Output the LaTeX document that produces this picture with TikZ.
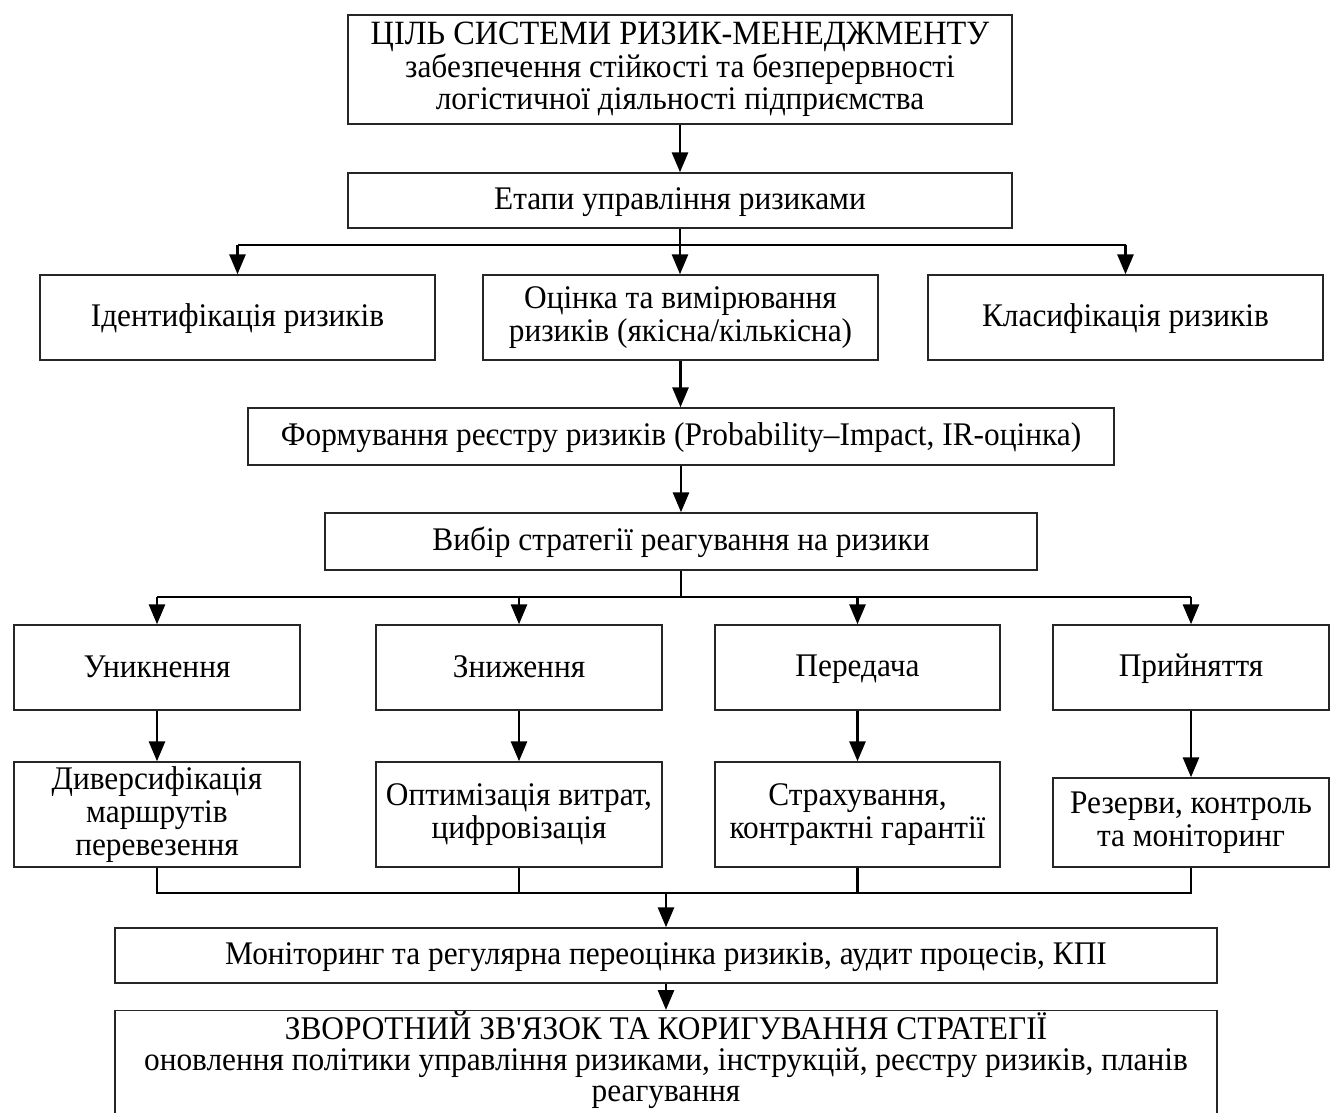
\documentclass[tikz,border=0pt]{standalone}
\usepackage{fontspec}
\setmainfont[FakeStretch=0.95]{Liberation Serif}
\newfontfamily\plainserif[FakeStretch=0.95]{Liberation Serif}
\usetikzlibrary{arrows.meta}
\setlength{\lineskiplimit}{-100pt}
\setlength{\lineskip}{0pt}
\begin{document}
\begin{tikzpicture}[x=0.5pt,y=-0.5pt,
  box/.style={draw=black!85,line width=0.7pt,align=center,inner sep=0pt,
    font=\fontsize{16.5pt}{16.3pt}\selectfont,
    execute at begin node={\rule{0pt}{13pt}}, execute at end node={\rule[-3pt]{0pt}{3pt}}},
  conn/.style={line width=1.45pt,draw=black},
  arr/.style={conn,-{Triangle[width=8pt,length=10pt]}}]
\useasboundingbox (0,0) rectangle (1330,1113);
\node[box,minimum width=332pt,minimum height=54.5pt] (top) at (680,69.5)
  {\fontsize{17pt}{16.5pt}\selectfont ЦІЛЬ СИСТЕМИ РИЗИК-МЕНЕДЖМЕНТУ\\забезпечення стійкості та безперервності\\логістичної діяльності підприємства};
\node[box,minimum width=332pt,minimum height=27.5pt] (etapy) at (680,200.5) {Етапи управління ризиками};
\node[box,minimum width=197.5pt,minimum height=42.5pt] (ident) at (237.5,317.5) {Ідентифікація ризиків};
\node[box,minimum width=197.5pt,minimum height=42.5pt] (ocin) at (680.5,317.5) {Оцінка та вимірювання\\ризиків (якісна/кількісна)};
\node[box,minimum width=197.5pt,minimum height=42.5pt] (klas) at (1125.5,317.5) {Класифікація ризиків};
\node[box,minimum width=433pt,minimum height=28.5pt] (form) at (681,436.5) {Формування реєстру ризиків (Probability–Impact, IR-оцінка)};
\node[box,minimum width=356pt,minimum height=28.5pt] (vybir) at (681,541.5) {Вибір стратегії реагування на ризики};
\node[box,minimum width=143pt,minimum height=42.5pt] (unyk) at (157,667.5) {Уникнення};
\node[box,minimum width=143pt,minimum height=42.5pt] (znyzh) at (519,667.5) {Зниження};
\node[box,minimum width=142.5pt,minimum height=42.5pt] (pered) at (857.5,667.5) {Передача};
\node[box,minimum width=138pt,minimum height=42.5pt] (pryin) at (1191,667.5) {Прийняття};
\node[box,minimum width=143pt,minimum height=52.5pt] (dyv) at (157,814.5) {Диверсифікація\\маршрутів\\перевезення};
\node[box,minimum width=143pt,minimum height=52.5pt] (opt) at (519,814.5) {Оптимізація витрат,\\цифровізація};
\node[box,minimum width=142.5pt,minimum height=52.5pt] (strakh) at (857.5,814.5) {Страхування,\\контрактні гарантії};
\node[box,minimum width=138pt,minimum height=44.5pt] (rez) at (1191,822.5) {Резерви, контроль\\та моніторинг};
\node[box,minimum width=551pt,minimum height=27.5pt] (monit) at (666,955.5) {Моніторинг та регулярна переоцінка ризиків, аудит процесів, КПІ};
\node[box,minimum width=551pt,anchor=north,inner ysep=0.5pt,
  font=\fontsize{16.5pt}{15.4pt}\selectfont,
  execute at end node={\rule[-9pt]{0pt}{9pt}}] (zvor) at (666,1010)
  {ЗВОРОТНИЙ ЗВ{\plainserif '}ЯЗОК ТА КОРИГУВАННЯ СТРАТЕГІЇ\\оновлення політики управління ризиками, інструкцій, реєстру ризиків, планів\\реагування};
% connectors
\coordinate (b1) at (680,245);
\coordinate (b2) at (681,597);
\coordinate (b3) at (666,893);
\draw[arr] (top.south) -- (etapy.north);
\draw[arr] (etapy.south) -- (ocin.north -| etapy.south);
\draw[conn] (ident.north |- b1) -- (klas.north |- b1);
\draw[arr] (ident.north |- b1) -- (ident.north);
\draw[arr] (klas.north |- b1) -- (klas.north);
\draw[arr] (ocin.south) -- (form.north -| ocin.south);
\draw[arr] (form.south) -- (vybir.north);
\draw[conn] (vybir.south) -- (b2);
\draw[conn] (unyk.north |- b2) -- (pryin.north |- b2);
\draw[arr] (unyk.north |- b2) -- (unyk.north);
\draw[arr] (znyzh.north |- b2) -- (znyzh.north);
\draw[arr] (pered.north |- b2) -- (pered.north);
\draw[arr] (pryin.north |- b2) -- (pryin.north);
\draw[arr] (unyk.south) -- (dyv.north);
\draw[arr] (znyzh.south) -- (opt.north);
\draw[arr] (pered.south) -- (strakh.north);
\draw[arr] (pryin.south) -- (rez.north);
\draw[conn] (dyv.south) -- (dyv.south |- b3) -- (rez.south |- b3) -- (rez.south);
\draw[conn] (opt.south) -- (opt.south |- b3);
\draw[conn] (strakh.south) -- (strakh.south |- b3);
\draw[arr] (b3) -- (monit.north);
\draw[arr] (monit.south) -- (zvor.north);
\end{tikzpicture}
\end{document}
